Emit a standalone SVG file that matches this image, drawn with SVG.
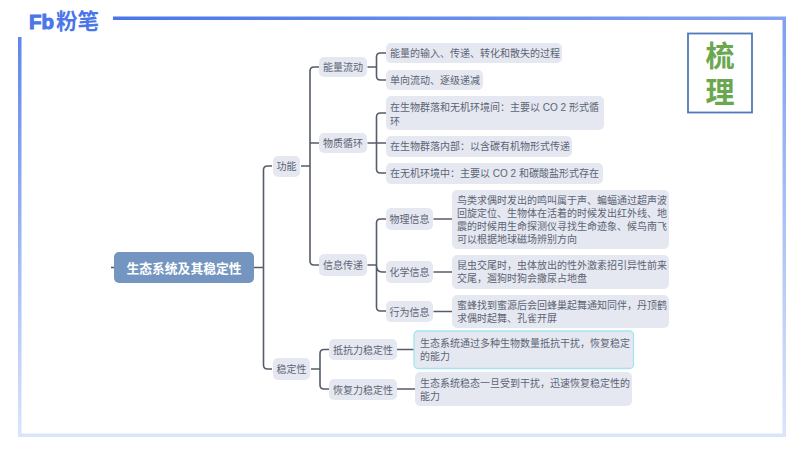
<svg xmlns="http://www.w3.org/2000/svg" width="800" height="450" viewBox="0 0 800 450">
<defs>
<linearGradient id="gl" x1="0" y1="0" x2="0" y2="1"><stop offset="0" stop-color="#5f86ee"/><stop offset="1" stop-color="#dbe5fa"/></linearGradient>
<linearGradient id="gr" x1="0" y1="0" x2="0" y2="1"><stop offset="0" stop-color="#7f9ff0"/><stop offset="1" stop-color="#dbe5fa"/></linearGradient>
<linearGradient id="gt" x1="0" y1="0" x2="1" y2="0"><stop offset="0" stop-color="#4a76ea"/><stop offset="1" stop-color="#84a3f0"/></linearGradient>
</defs>
<style>
text{font-family:"Liberation Sans","Noto Sans CJK SC",sans-serif;}
.n{fill:#e5e8f1;}
.t{font-size:10px;fill:#5c6474;}
.c{font-size:10px;fill:#5c6474;text-anchor:middle;}
.l{fill:none;stroke:#555c69;stroke-width:1.6;}
</style>
<rect width="800" height="450" fill="#fff"/>
<g id="frame">
<rect x="113" y="16.500" width="673" height="3.500" fill="url(#gt)"/>
<rect x="18" y="37" width="3.500" height="400" fill="url(#gl)"/>
<rect x="782.500" y="20" width="3.500" height="417" fill="url(#gr)"/>
<rect x="18" y="433.500" width="768" height="3.500" fill="#dbe5fa"/>
</g>
<g id="logo">
<text x="29" y="29" font-size="20" font-weight="700" fill="#4a76ea" stroke="#4a76ea" stroke-width="1" textLength="25" lengthAdjust="spacingAndGlyphs">Fb</text>
<text x="56" y="28.500" font-size="21.500" font-weight="700" fill="#4a76ea">粉笔</text>
</g>
<g id="badge">
<rect x="688" y="33.500" width="64" height="79" fill="#fff" stroke="#4f79bd" stroke-width="1.800"/>
<text x="720" y="66.500" font-size="29" font-weight="700" fill="#6aa84f" text-anchor="middle">梳</text>
<text x="720" y="102.500" font-size="29" font-weight="700" fill="#6aa84f" text-anchor="middle">理</text>
</g>
<g id="connectors">
<path class="l" d="M111 267.500H114"/>
<path class="l" d="M254 267.500H263.500M272 166H267.500Q263.500 166 263.500 170V365Q263.500 369 267.500 369H272"/>
<path class="l" d="M301 166H310M319 67H314Q310 67 310 71V261Q310 265 314 265H319M310 143H319"/>
<path class="l" d="M367.500 67H376.500M386 53H380.500Q376.500 53 376.500 57V76Q376.500 80 380.500 80H386"/>
<path class="l" d="M367.500 143H386M386 113H380.500Q376.500 113 376.500 117V169Q376.500 173 380.500 173H386"/>
<path class="l" d="M367.500 265H376.500M386 219H380.500Q376.500 219 376.500 223V307Q376.500 311 380.500 311H386M376.500 265Q376.500 272 382 272H386"/>
<path class="l" d="M433.500 219H452M433.500 272H452M433.500 311.500H452"/>
<path class="l" d="M311 369H320M329 349.500H324Q320 349.500 320 353.500V385Q320 389 324 389H329"/>
<path class="l" d="M397 349.500H414M397 389H415"/>
</g>
<g id="root"><rect x="114" y="252" width="140" height="31" rx="5" fill="#7495c0"/><text x="184" y="272.500" font-size="12.800" font-weight="700" fill="#fff" text-anchor="middle">生态系统及其稳定性</text></g>
<g id="n-gongneng"><rect class="n" x="273" y="156" width="27" height="21" rx="5"/><text class="c" x="286.500" y="170">功能</text></g>
<g id="n-wendingxing"><rect class="n" x="273" y="358" width="37" height="22" rx="5"/><text class="c" x="291.500" y="373">稳定性</text></g>
<g id="n-nengliang"><rect class="n" x="319" y="57" width="48" height="20" rx="5"/><text class="c" x="343" y="70.500">能量流动</text></g>
<g id="n-wuzhi"><rect class="n" x="319" y="133" width="48" height="20" rx="5"/><text class="c" x="343" y="147">物质循环</text></g>
<g id="n-xinxi"><rect class="n" x="319" y="254" width="48" height="22" rx="5"/><text class="c" x="343" y="269">信息传递</text></g>
<g id="leaf-1"><rect class="n" x="386" y="43" width="176" height="20" rx="5"/><text class="t" x="390" y="57">能量的输入、传递、转化和散失的过程</text></g>
<g id="leaf-2"><rect class="n" x="386" y="70" width="97" height="20" rx="5"/><text class="t" x="390" y="84">单向流动、逐级递减</text></g>
<g id="leaf-3"><rect class="n" x="386" y="96" width="218" height="34" rx="5"/><text class="t" x="390" y="111">在生物群落和无机环境间：主要以 CO 2 形式循</text><text class="t" x="390" y="125">环</text></g>
<g id="leaf-4"><rect class="n" x="386" y="136" width="186" height="21" rx="5"/><text class="t" x="390" y="150">在生物群落内部：以含碳有机物形式传递</text></g>
<g id="leaf-5"><rect class="n" x="386" y="163" width="217" height="21" rx="5"/><text class="t" x="390" y="177">在无机环境中：主要以 CO 2 和碳酸盐形式存在</text></g>
<g id="n-wuli"><rect class="n" x="386" y="208" width="47" height="22" rx="5"/><text class="c" x="409.500" y="223">物理信息</text></g>
<g id="n-huaxue"><rect class="n" x="386" y="261" width="47" height="22" rx="5"/><text class="c" x="409.500" y="276">化学信息</text></g>
<g id="n-xingwei"><rect class="n" x="386" y="301" width="47" height="21" rx="5"/><text class="c" x="409.500" y="316">行为信息</text></g>
<g id="leaf-6"><rect class="n" x="452" y="190" width="217" height="59" rx="5"/>
<text class="t" x="457" y="204">鸟类求偶时发出的鸣叫属于声、蝙蝠通过超声波</text>
<text class="t" x="457" y="217">回旋定位、生物体在活着的时候发出红外线、地</text>
<text class="t" x="457" y="230">震的时候用生命探测仪寻找生命迹象、候鸟南飞</text>
<text class="t" x="457" y="243">可以根据地球磁场辨别方向</text></g>
<g id="leaf-7"><rect class="n" x="452" y="255" width="217" height="34" rx="5"/>
<text class="t" x="457" y="269">昆虫交尾时，虫体放出的性外激素招引异性前来</text>
<text class="t" x="457" y="282">交尾，遛狗时狗会撒尿占地盘</text></g>
<g id="leaf-8"><rect class="n" x="452" y="295" width="217" height="33" rx="5"/>
<text class="t" x="457" y="309">蜜蜂找到蜜源后会回蜂巢起舞通知同伴，丹顶鹤</text>
<text class="t" x="457" y="322">求偶时起舞、孔雀开屏</text></g>
<g id="n-dikang"><rect class="n" x="329" y="339" width="68" height="21" rx="5"/><text class="c" x="363" y="353.500">抵抗力稳定性</text></g>
<g id="n-huifu"><rect class="n" x="329" y="379" width="68" height="21" rx="5"/><text class="c" x="363" y="393.500">恢复力稳定性</text></g>
<g id="leaf-9"><rect class="n" x="414" y="331" width="219.500" height="37.500" rx="4" stroke="#a5e3f2" stroke-width="1.300"/>
<text class="t" x="420" y="347">生态系统通过多种生物数量抵抗干扰，恢复稳定</text>
<text class="t" x="420" y="360">的能力</text></g>
<g id="leaf-10"><rect class="n" x="415" y="372" width="217" height="34" rx="5"/>
<text class="t" x="420" y="387">生态系统稳态一旦受到干扰，迅速恢复稳定性的</text>
<text class="t" x="420" y="400">能力</text></g>
</svg>
